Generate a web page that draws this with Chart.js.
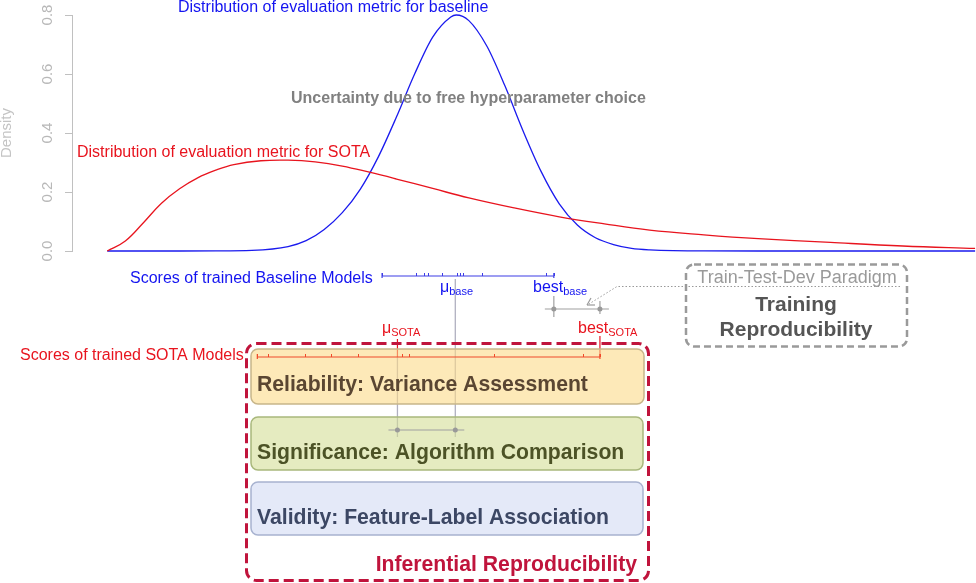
<!DOCTYPE html>
<html>
<head>
<meta charset="utf-8">
<script src="https://cdn.jsdelivr.net/npm/chart.js@4"></script>
<style>
  body { margin: 0; background: #fff; }
  canvas { display: block; }
</style>
</head>
<body>
<canvas id="density" width="976" height="583"></canvas>
<script>
// density curves (metric score -> density)
const baseX = [0, 8, 12, 16, 20, 22, 24, 26, 28, 30, 32, 34, 36, 38, 38.6, 40, 42, 44, 46, 48, 50, 52, 54, 56, 58, 60, 66, 72, 80, 88, 96];
const baseDensity = [0, 0, 0.0002, 0.002, 0.015, 0.035, 0.073, 0.13, 0.21, 0.32, 0.455, 0.6, 0.725, 0.793, 0.8, 0.781, 0.694, 0.559, 0.407, 0.269, 0.16, 0.088, 0.045, 0.022, 0.009, 0.004, 0.0002, 0, 0, 0, 0];
const sotaX = [0, 2, 4, 6, 8, 10, 12, 14, 17, 20, 23, 26, 29, 32, 36, 40, 45, 50, 55, 60, 66, 72, 80, 88, 96];
const sotaDensity = [0, 0.034, 0.096, 0.162, 0.211, 0.248, 0.274, 0.293, 0.306, 0.308, 0.302, 0.288, 0.267, 0.244, 0.212, 0.18, 0.146, 0.116, 0.092, 0.071, 0.055, 0.042, 0.029, 0.017, 0.009];

// scores of the trained models (rug plots)
const baselineScores = [30.4, 34.1, 35.0, 35.5, 37.0, 38.7, 39.0, 39.3, 41.4, 48.5, 49.4];
const sotaScores = [16.6, 17.8, 21.9, 24.7, 27.7, 32.6, 33.4, 42.8, 52.6, 54.5];
const meanBase = 38.5;
const meanSota = 32.1;
const bestBase = 49.4;
const bestSota = 54.5;

const yTicks = [0, 0.2, 0.4, 0.6, 0.8];

const FONT = '"Liberation Sans", Arial, sans-serif';
const BLUE = '#1414f0';
const RED = '#e8141e';

function pts(xs, ys) {
  return xs.map((v, i) => ({ x: v, y: ys[i] }));
}

function box(ctx, x, y, w, h, r, fill, stroke, lw, dash) {
  ctx.save();
  ctx.beginPath();
  ctx.roundRect(x, y, w, h, r);
  if (fill) { ctx.fillStyle = fill; ctx.fill(); }
  if (stroke) {
    ctx.strokeStyle = stroke;
    ctx.lineWidth = lw;
    ctx.setLineDash(dash || []);
    ctx.stroke();
  }
  ctx.restore();
}

function line(ctx, x0, y0, x1, y1, color, lw) {
  ctx.strokeStyle = color;
  ctx.lineWidth = lw || 1;
  ctx.beginPath();
  ctx.moveTo(x0, y0);
  ctx.lineTo(x1, y1);
  ctx.stroke();
}

function text(ctx, s, x, y, font, color, align) {
  ctx.font = font;
  ctx.fillStyle = color;
  ctx.textAlign = align || 'left';
  ctx.textBaseline = 'alphabetic';
  ctx.fillText(s, x, y);
}

// label with a subscript, e.g. mu_base
function subLabel(ctx, main, sub, x, y, color) {
  text(ctx, main, x, y, '16px ' + FONT, color);
  const w = ctx.measureText(main).width;
  text(ctx, sub, x + w, y + 3, '11px ' + FONT, color);
}

function rug(ctx, xs, vals, py, color) {
  const x0 = xs.getPixelForValue(Math.min(...vals));
  const x1 = xs.getPixelForValue(Math.max(...vals));
  line(ctx, x0, py, x1, py, color, 1.2);
  vals.forEach(v => {
    const px = Math.round(xs.getPixelForValue(v)) + 0.5;
    line(ctx, px, py - 3, px, py, color, 1);
  });
  line(ctx, x0, py - 3, x0, py + 2, color, 1.2);
  line(ctx, x1, py - 3, x1, py + 2, color, 1.2);
}

function bar(ctx, xs, a, b, py) {
  const pa = xs.getPixelForValue(a), pb = xs.getPixelForValue(b);
  line(ctx, Math.min(pa, pb) - 9, py, Math.max(pa, pb) + 9, py, '#a0a0a0', 1.2);
  ctx.fillStyle = '#999';
  [pa, pb].forEach(p => {
    ctx.beginPath();
    ctx.arc(p, py, 2.5, 0, Math.PI * 2);
    ctx.fill();
  });
}

const diagram = {
  id: 'diagram',
  afterDraw(chart) {
    const { ctx, scales: { x, y } } = chart;
    ctx.save();

    // rotated y tick labels and axis title, R style
    ctx.fillStyle = '#b8b8b8';
    ctx.font = '15px ' + FONT;
    ctx.textAlign = 'center';
    y.ticks.forEach(t => {
      ctx.save();
      ctx.translate(52, y.getPixelForValue(t.value));
      ctx.rotate(-Math.PI / 2);
      ctx.fillText(t.value.toFixed(1), 0, 0);
      ctx.restore();
    });
    ctx.save();
    ctx.translate(11, (y.top + y.bottom) / 2);
    ctx.rotate(-Math.PI / 2);
    ctx.fillStyle = '#c4c4c4';
    ctx.fillText('Density', 0, 0);
    ctx.restore();

    // curve captions
    text(ctx, 'Distribution of evaluation metric for baseline', 178, 12, '16px ' + FONT, BLUE);
    text(ctx, 'Uncertainty due to free hyperparameter choice', 291, 103, 'bold 16px ' + FONT, '#808080');
    text(ctx, 'Distribution of evaluation metric for SOTA', 77, 157, '16px ' + FONT, RED);

    const pmB = x.getPixelForValue(meanBase), pmS = x.getPixelForValue(meanSota);
    const pbB = x.getPixelForValue(bestBase), pbS = x.getPixelForValue(bestSota);

    // guide lines, beneath the boxes
    line(ctx, pmB, 279, pmB, 437, '#b0b0c0', 1.3);
    line(ctx, pmS, 357, pmS, 437, '#b0b0c0', 1.3);
    line(ctx, pmS, 339, pmS, 357, RED, 1.2);
    line(ctx, pbB, 296, pbB, 317, '#a8a8a8', 1.3);
    line(ctx, pbS, 301, pbS, 314, '#a8a8a8', 1.3);
    line(ctx, pbS, 336, pbS, 357, RED, 1.2);

    // inferential reproducibility boxes
    box(ctx, 251, 349, 393, 55, 7, 'rgba(252,218,137,0.6)', '#c8b68a', 1.5);
    box(ctx, 251, 417, 392, 53, 7, 'rgba(212,222,150,0.6)', '#a9b87c', 1.5);
    box(ctx, 251, 482, 392, 53, 7, 'rgba(210,218,243,0.6)', '#a8b3d0', 1.5);
    box(ctx, 246.5, 343.5, 402, 237, 10, null, '#c0143c', 3, [10, 5]);

    text(ctx, 'Reliability: Variance Assessment', 257, 391, 'bold 21.2px ' + FONT, '#5a4632');
    text(ctx, 'Significance: Algorithm Comparison', 257, 459, 'bold 21.2px ' + FONT, '#4c5226');
    text(ctx, 'Validity: Feature-Label Association', 257, 524, 'bold 21.2px ' + FONT, '#3c4764');
    text(ctx, 'Inferential Reproducibility', 637, 571, 'bold 21.2px ' + FONT, '#c0143c', 'right');

    // rug plots of model scores
    rug(ctx, x, baselineScores, 276, '#3c3ce6');
    rug(ctx, x, sotaScores, 357, '#f04a2a');
    text(ctx, 'Scores of trained Baseline Models', 130, 283, '16px ' + FONT, BLUE);
    text(ctx, 'Scores of trained SOTA Models', 20, 360, '16px ' + FONT, RED);

    subLabel(ctx, '\u03bc', 'base', 440, 292, BLUE);
    subLabel(ctx, 'best', 'base', 533, 292, BLUE);
    subLabel(ctx, '\u03bc', 'SOTA', 382, 333, RED);
    subLabel(ctx, 'best', 'SOTA', 578, 333, RED);

    bar(ctx, x, bestBase, bestSota, 309);
    bar(ctx, x, meanSota, meanBase, 430);

    // training reproducibility box and pointer
    ctx.save();
    ctx.setLineDash([1.5, 2]);
    ctx.strokeStyle = '#999';
    ctx.lineWidth = 1;
    ctx.beginPath();
    ctx.moveTo(900, 286.5);
    ctx.lineTo(617, 286.5);
    ctx.lineTo(589, 304);
    ctx.stroke();
    ctx.restore();
    line(ctx, 587, 305, 595, 305, '#999', 1.2);
    line(ctx, 587, 305, 591, 298, '#999', 1.2);

    box(ctx, 686, 264.5, 221, 82, 8, null, '#9a9a9a', 2.5, [7, 4]);
    text(ctx, 'Train-Test-Dev Paradigm', 797, 283, '18px ' + FONT, '#9a9a9a', 'center');
    text(ctx, 'Training', 796, 311, 'bold 21px ' + FONT, '#555', 'center');
    text(ctx, 'Reproducibility', 796, 336, 'bold 21px ' + FONT, '#555', 'center');

    ctx.restore();
  }
};

new Chart(document.getElementById('density'), {
  type: 'line',
  data: {
    datasets: [{
      label: 'SOTA',
      data: pts(sotaX, sotaDensity),
      borderColor: '#e8141e',
      borderWidth: 1.3,
      pointRadius: 0,
      tension: 0.4,
      clip: false
    }, {
      label: 'Baseline',
      data: pts(baseX, baseDensity),
      borderColor: '#1a1aee',
      borderWidth: 1.3,
      pointRadius: 0,
      cubicInterpolationMode: 'monotone',
      clip: false
    }]
  },
  options: {
    responsive: false,
    animation: false,
    events: [],
    layout: { padding: { top: 15, bottom: 332, left: 0, right: 0 } },
    scales: {
      x: { type: 'linear', display: false, min: -3.9, max: 96.1 },
      y: {
        min: 0,
        max: 0.8,
        afterBuildTicks: s => { s.ticks = yTicks.map(v => ({ value: v })); },
        afterFit: s => { s.width = 72; },
        ticks: { display: false },
        grid: { drawOnChartArea: false, tickLength: 7, color: '#c0c0c0' },
        border: { color: '#c0c0c0' }
      }
    },
    plugins: {
      legend: { display: false },
      tooltip: { enabled: false }
    }
  },
  plugins: [diagram]
});
</script>
</body>
</html>
